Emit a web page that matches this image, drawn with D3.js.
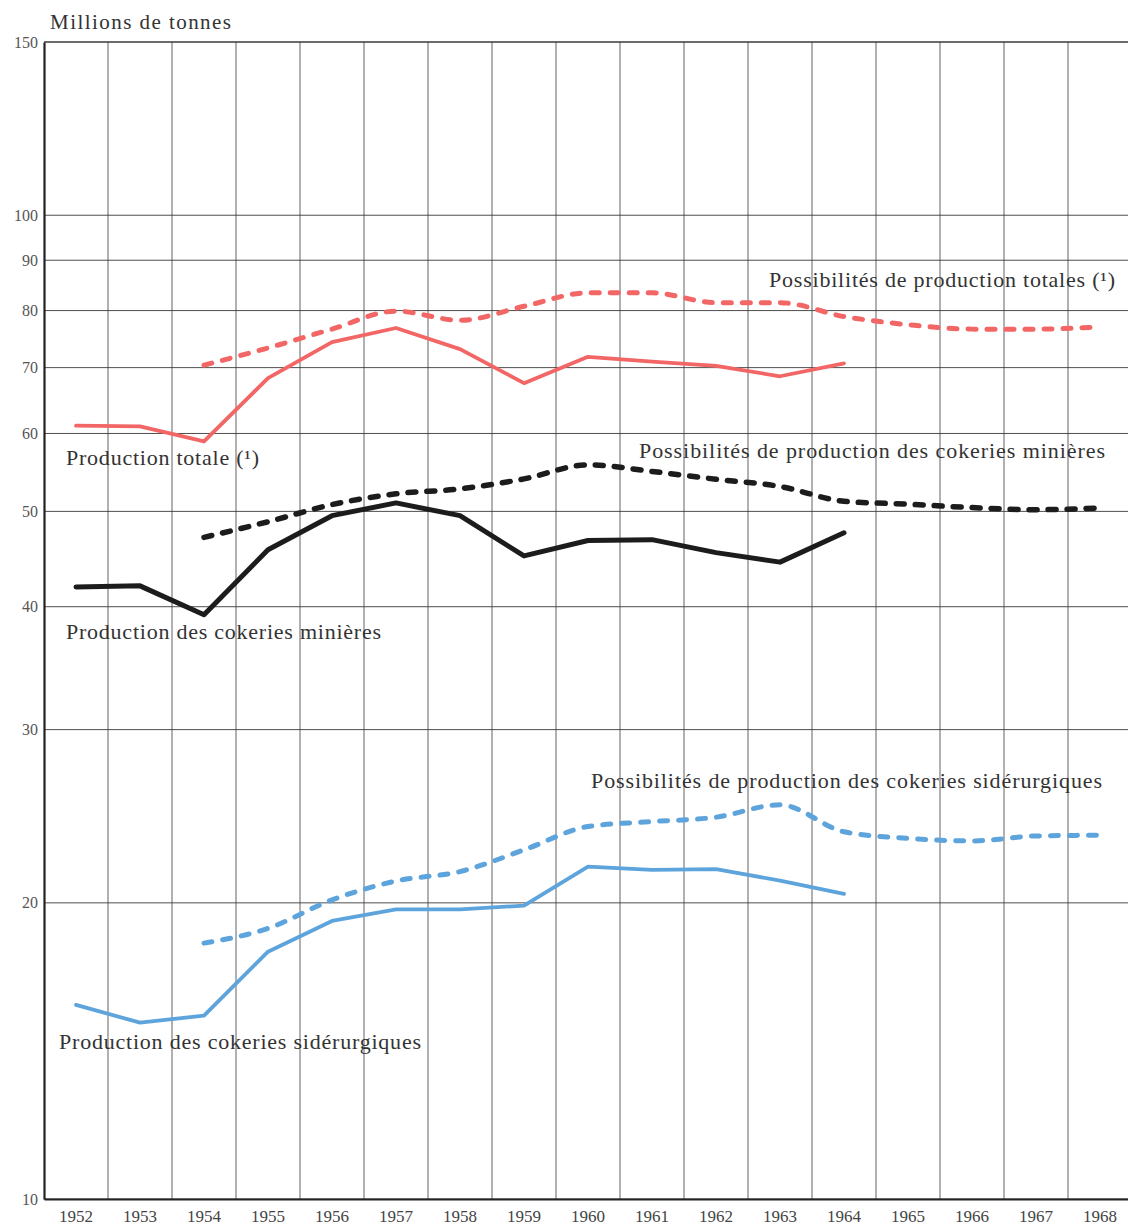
<!DOCTYPE html>
<html>
<head>
<meta charset="utf-8">
<script src="https://cdn.jsdelivr.net/npm/d3@7"></script>
<style>
  html, body { margin: 0; padding: 0; background: #fff; }
  svg { display: block; }
</style>
</head>
<body>
<svg id="chart" width="1128" height="1228"></svg>
<script>
// ---- Data ----
const years = [1952,1953,1954,1955,1956,1957,1958,1959,1960,1961,1962,1963,1964,1965,1966,1967,1968];
const yearsProd = [1952,1953,1954,1955,1956,1957,1958,1959,1960,1961,1962,1963,1964];
const yearsPoss = [1954,1955,1956,1957,1958,1959,1960,1961,1962,1963,1964,1965,1966,1967,1968];

const productionTotale = [61.1, 61.0, 58.9, 68.3, 74.3, 76.8, 73.1, 67.5, 71.8, 71.0, 70.3, 68.6, 70.7];
const possibilitesTotales = [70.4, 73.3, 76.6, 79.9, 78.2, 80.8, 83.4, 83.4, 81.5, 81.5, 78.9, 77.4, 76.6, 76.6, 77.0];

const productionMinieres = [41.9, 42.0, 39.25, 45.7, 49.5, 51.0, 49.5, 45.05, 46.7, 46.8, 45.4, 44.4, 47.55];
const possibilitesMinieres = [47.05, 48.8, 50.8, 52.1, 52.7, 53.95, 55.75, 54.9, 53.9, 53.0, 51.2, 50.85, 50.45, 50.2, 50.4];

const productionSider = [15.75, 15.11, 15.36, 17.84, 19.17, 19.70, 19.70, 19.87, 21.77, 21.60, 21.64, 21.07, 20.43];
const possibilitesSider = [18.20, 18.84, 20.14, 21.05, 21.52, 22.64, 23.91, 24.19, 24.44, 25.16, 23.62, 23.26, 23.12, 23.39, 23.43];

const yTicks = [10, 20, 30, 40, 50, 60, 70, 80, 90, 100, 150];
const unitLabel = "Millions de tonnes";

const seriesLabels = [
  {text: "Possibilités de production totales (¹)", x: 769, y: 287, len: 346},
  {text: "Production totale (¹)", x: 66, y: 465, len: 193},
  {text: "Possibilités de production des cokeries minières", x: 639, y: 458, len: 466},
  {text: "Production des cokeries minières", x: 66, y: 639, len: 315},
  {text: "Possibilités de production des cokeries sidérurgiques", x: 591, y: 788, len: 511},
  {text: "Production des cokeries sidérurgiques", x: 59, y: 1049, len: 362}
];

// ---- Layout ----
const mLeft = 44, mTop = 42, mBottom = 1199, colW = 64, mRight = 1128;
const svg = d3.select("#chart");
const font = "Liberation Serif, DejaVu Serif, serif";

const x = d3.scaleBand().domain(years).range([mLeft, mLeft + years.length * colW]).padding(0);
const y = d3.scaleLog().domain([10, 150]).range([mBottom, mTop]);
const cx = d => x(d) + x.bandwidth() / 2;

// Grid
const grid = svg.append("g");
grid.selectAll("line.h").data(yTicks).enter().append("line")
  .attr("x1", mLeft).attr("x2", mRight)
  .attr("y1", d => y(d)).attr("y2", d => y(d))
  .attr("stroke", "#3a3a3a").attr("stroke-width", d => d === 150 ? 1.6 : 0.9);
grid.selectAll("line.v").data(years.slice(1)).enter().append("line")
  .attr("x1", d => x(d)).attr("x2", d => x(d))
  .attr("y1", mTop).attr("y2", mBottom)
  .attr("stroke", "#3a3a3a").attr("stroke-width", 0.8);

// Axes
const yAxis = d3.axisLeft(y).tickValues(yTicks).tickFormat(d3.format("d")).tickSize(0).tickPadding(6);
const gy = svg.append("g").attr("transform", `translate(${mLeft},0)`).call(yAxis);
gy.select(".domain").attr("stroke", "#222").attr("stroke-width", 2.2);
gy.selectAll("text").attr("font-family", font).attr("font-size", 16).attr("fill", "#555");

const xAxis = d3.axisBottom(x).tickSize(0).tickPadding(11);
const gx = svg.append("g").attr("transform", `translate(0,${mBottom})`).call(xAxis);
gx.select(".domain").attr("stroke", "#222").attr("stroke-width", 2.2);
gx.selectAll("text").attr("font-family", font).attr("font-size", 17).attr("fill", "#444");

// Unit label
svg.append("text").attr("x", 50).attr("y", 29).text(unitLabel)
  .attr("font-family", font).attr("font-size", 21).attr("fill", "#333")
  .attr("textLength", 181).attr("lengthAdjust", "spacing");

// Lines
const lineLin = d3.line().x(d => cx(d[0])).y(d => y(d[1])).curve(d3.curveLinear);
const lineSmooth = d3.line().x(d => cx(d[0])).y(d => y(d[1])).curve(d3.curveMonotoneX);

function drawSeries(yrs, vals, color, width, dashed) {
  const data = yrs.map((yr, i) => [yr, vals[i]]);
  const p = svg.append("path").datum(data)
    .attr("d", dashed ? lineSmooth : lineLin)
    .attr("fill", "none").attr("stroke", color).attr("stroke-width", width)
    .attr("stroke-linejoin", "round").attr("stroke-linecap", "round");
  if (dashed) p.attr("stroke-dasharray", "8,11");
}

const red = "#f26666", black = "#1c1c1c", blue = "#5ea4dc";
drawSeries(yearsPoss, possibilitesTotales, red, 5, true);
drawSeries(yearsProd, productionTotale, red, 3.8, false);
drawSeries(yearsPoss, possibilitesMinieres, black, 5.5, true);
drawSeries(yearsProd, productionMinieres, black, 5, false);
drawSeries(yearsPoss, possibilitesSider, blue, 5, true);
drawSeries(yearsProd, productionSider, blue, 3.8, false);

// Series labels
svg.selectAll("text.lbl").data(seriesLabels).enter().append("text")
  .attr("class", "lbl")
  .attr("x", d => d.x).attr("y", d => d.y)
  .attr("textLength", d => d.len).attr("lengthAdjust", "spacing")
  .attr("font-family", font).attr("font-size", 22).attr("fill", "#333")
  .text(d => d.text);
</script>
</body>
</html>
